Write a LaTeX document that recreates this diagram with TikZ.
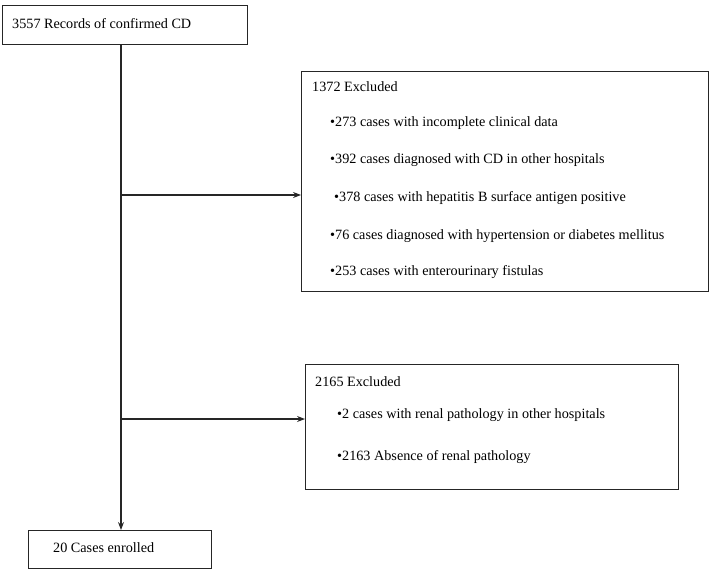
\documentclass[tikz,border=0pt]{standalone}
\usepackage{fontspec}
\setmainfont{Liberation Serif}
\usetikzlibrary{arrows.meta,positioning}

\begin{document}
\begin{tikzpicture}[
		x=1pt, y=-1pt,
		box/.style={draw=black!85, line width=1.1pt, anchor=north west, inner sep=0pt},
		txt/.style={anchor=base west, inner sep=0pt, font=\fontsize{14.2}{16}\selectfont},
		flow/.style={-{Stealth[length=8pt,width=6pt]}, line width=1.1pt, draw=black!85}
		]
	
		\useasboundingbox (0,0) rectangle (712,570);
	
		% boxes
		\node[box, minimum width=245pt, minimum height=39pt] (rec) at (2,5) {};
		\node[box, minimum width=407pt, minimum height=220pt] (ex1) at (301,71) {};
		\node[box, minimum width=373pt, minimum height=125pt] (ex2) at (305,364) {};
		\node[box, minimum width=183pt, minimum height=38pt] (enr) at (28,530) {};
	
		% texts
		\node[txt] (recT) at (12,28) {3557 Records of confirmed CD};
		\node[txt] (ex1T) at (312,91) {1372 Excluded};
		\node[txt] (ex1a) at (330,126) {•273 cases with incomplete clinical data};
		\node[txt] (ex1b) at (330,163) {•392 cases diagnosed with CD in other hospitals};
		\node[txt] (ex1c) at (334,201) {•378 cases with hepatitis B surface antigen positive};
		\node[txt] (ex1d) at (330,239) {•76 cases diagnosed with hypertension or diabetes mellitus};
		\node[txt] (ex1e) at (330,275) {•253 cases with enterourinary fistulas};
		\node[txt] (ex2T) at (315,386) {2165 Excluded};
		\node[txt] (ex2a) at (337,418) {•2 cases with renal pathology in other hospitals};
		\node[txt] (ex2b) at (337,460) {•2163 Absence of renal pathology};
		\node[txt] (enrT) at (53,552) {20 Cases enrolled};
	
		% connectors
		\coordinate (top) at (121,44);
		\coordinate (j1) at (121,195);
		\coordinate (j2) at (121,419);
		\draw[flow] (top) -- (top |- enr.north);
		\draw[flow] (j1) -- (j1 -| ex1.west);
		\draw[flow] (j2) -- (j2 -| ex2.west);
	
	\end{tikzpicture}
\end{document}
